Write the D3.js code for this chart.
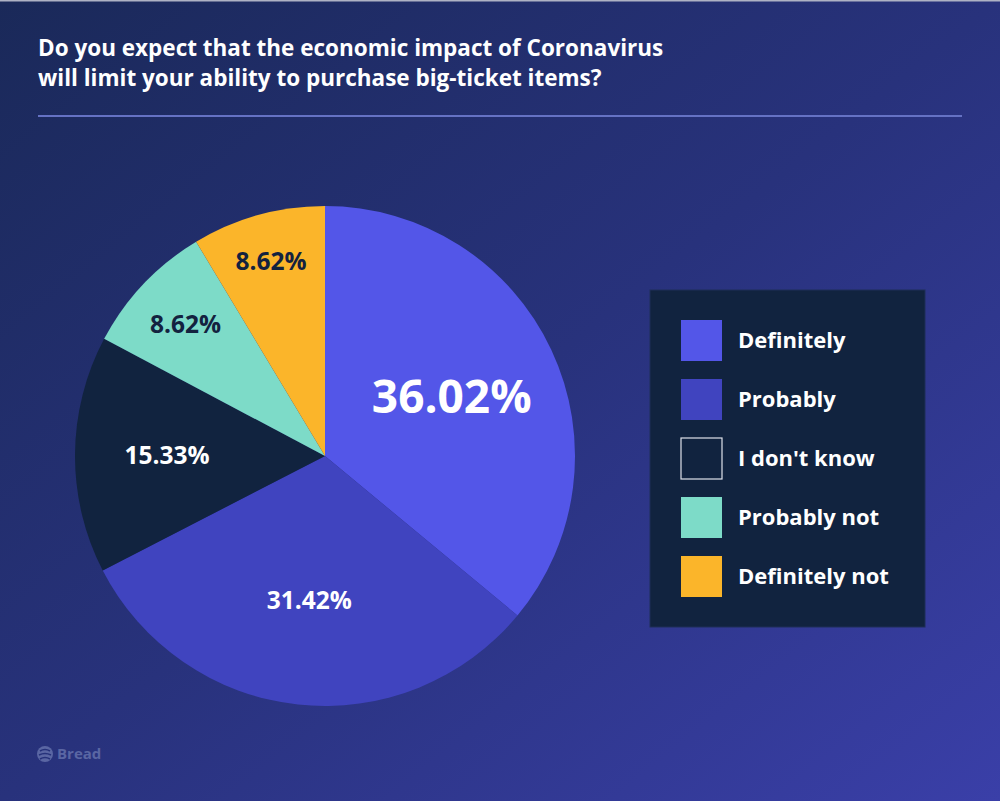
<!DOCTYPE html>
<html>
<head>
<meta charset="utf-8">
<script src="https://cdn.jsdelivr.net/npm/d3@7"></script>
<style>
html,body{margin:0;padding:0;background:#1b2a5a;}
svg{display:block;}
text{font-family:"Open Sans","Noto Sans",sans-serif;font-weight:700;}
</style>
</head>
<body>
<script>
const categories = ["Definitely", "Probably", "I don't know", "Probably not", "Definitely not"];
const values = [36.02, 31.42, 15.33, 8.62, 8.62];
const labels = ["36.02%", "31.42%", "15.33%", "8.62%", "8.62%"];
const colors = ["#5356e8", "#4044bf", "#11233f", "#7ddbc8", "#fbb52a"];
const labelColors = ["#ffffff", "#ffffff", "#ffffff", "#13223f", "#13223f"];
const title = ["Do you expect that the economic impact of Coronavirus", "will limit your ability to purchase big-ticket items?"];

const W = 1000, H = 801;
const svg = d3.select("body").append("svg").attr("width", W).attr("height", H);
const defs = svg.append("defs");
const grad = defs.append("linearGradient").attr("id", "bg")
  .attr("x1", "0%").attr("y1", "0%").attr("x2", "100%").attr("y2", "100%");
grad.append("stop").attr("offset", "0%").attr("stop-color", "#1a2959");
grad.append("stop").attr("offset", "50%").attr("stop-color", "#28327c");
grad.append("stop").attr("offset", "100%").attr("stop-color", "#3a3fa8");
svg.append("rect").attr("width", W).attr("height", H).attr("fill", "url(#bg)");
svg.append("rect").attr("width", W).attr("height", 1.5).attr("fill", "#aeb2c4");

// Title
const tg = svg.append("g");
title.forEach((t, i) => {
  tg.append("text").attr("x", 38).attr("y", 56 + i * 30)
    .attr("fill", "#ffffff").attr("font-size", 22.5).text(t);
});
svg.append("line").attr("x1", 38).attr("x2", 962).attr("y1", 116).attr("y2", 116)
  .attr("stroke", "#6572c4").attr("stroke-width", 2);

// Pie
const cx = 325, cy = 456, R = 250;
const pie = d3.pie().sort(null).value(d => d)(values);
const arc = d3.arc().innerRadius(0).outerRadius(R);
const g = svg.append("g").attr("transform", `translate(${cx},${cy})`);
g.selectAll("path").data(pie).join("path")
  .attr("d", arc).attr("fill", (d, i) => colors[i]);

const labelR = [140, 145, 158, 192, 202];
const labelSize = [46, 24.5, 24.5, 24.5, 24.5];
g.selectAll("text.lbl").data(pie).join("text").attr("class", "lbl")
  .attr("transform", (d, i) => {
    const a = (d.startAngle + d.endAngle) / 2;
    return `translate(${Math.sin(a) * labelR[i]},${-Math.cos(a) * labelR[i]})`;
  })
  .attr("text-anchor", "middle").attr("dy", "0.36em")
  .attr("font-size", (d, i) => labelSize[i])
  .attr("fill", (d, i) => labelColors[i])
  .text((d, i) => labels[i]);

// Legend
const lg = svg.append("g");
lg.append("rect").attr("x", 650).attr("y", 290).attr("width", 275).attr("height", 337)
  .attr("fill", "#11233f").attr("stroke", "#1f2f58").attr("stroke-width", 1);
const items = lg.selectAll("g.item").data(categories).join("g").attr("class", "item")
  .attr("transform", (d, i) => `translate(681,${320 + i * 59})`);
items.append("rect").attr("width", 41).attr("height", 41)
  .attr("fill", (d, i) => colors[i])
  .attr("stroke", (d, i) => i === 2 ? "#dfe2ea" : "none").attr("stroke-width", 1.2);
items.append("text").attr("x", 57).attr("y", 20).attr("dy", "0.36em")
  .attr("font-size", 22).attr("fill", "#ffffff").text(d => d);

// Logo
const logo = svg.append("g").attr("transform", "translate(45,754)");
logo.append("circle").attr("r", 8).attr("fill", "#5a66a3");
logo.append("path").attr("d", "M-5,-3 Q0,-6 5,-3 M-6,1 Q0,-2 6,1 M-5,5 Q0,2 5,5")
  .attr("stroke", "#26327a").attr("stroke-width", 1.6).attr("fill", "none");
logo.append("text").attr("x", 12).attr("y", 0).attr("dy", "0.36em")
  .attr("font-size", 15).attr("fill", "#5a66a3").text("Bread");
</script>
</body>
</html>
